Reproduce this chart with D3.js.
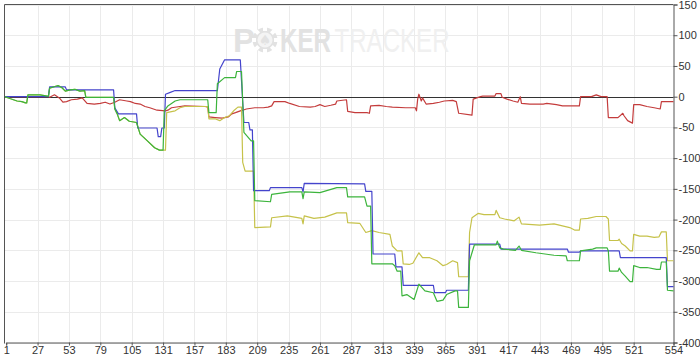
<!DOCTYPE html>
<html>
<head>
<meta charset="utf-8">
<script src="https://cdn.jsdelivr.net/npm/d3@7"></script>
<style>
  body { margin: 0; background: #fff; }
  svg { display: block; font-family: "Liberation Sans", Arial, sans-serif; }
</style>
</head>
<body>
<script>
// x ticks (hand numbers) and y ticks (amount)
const xTicks = [1, 27, 53, 79, 105, 131, 157, 183, 209, 235, 261, 287, 313, 339, 365, 391, 417, 443, 469, 495, 521, 554];
const yTicks = [150, 100, 50, 0, -50, -100, -150, -200, -250, -300, -350, -400];

// each series is [hand, value]
const blueSeries = [[0,0],[36,0],[37,16],[50,16],[51,11],[90,11],[91,-18],[94,-28],[109,-28],[110,-51],[126,-51],[127,-65],[129,-65],[130,-51],[132,-51],[133,4],[137,7],[141,10],[176,10],[178,45],[182,60],[195,60],[198,-42],[202,-42],[203,-54],[205,-54],[206,-153],[219,-153],[220,-148],[246,-148],[247,-155],[248,-141],[298,-142],[299,-154],[304,-154],[305,-256],[323,-256],[324,-277],[329,-277],[330,-307],[355,-307],[356,-319],[365,-319],[366,-315],[384,-315],[385,-240],[410,-240],[411,-248],[466,-248],[467,-253],[476,-253],[477,-251],[509,-251],[510,-262],[548,-262],[549,-309],[554,-309]];

const greenSeries = [[0,0],[4,-3],[10,-7],[14,-8],[17,-10],[18,-10],[19,3],[29,3],[35,1],[36,1],[37,14],[42,17],[44,18],[47,15],[50,9],[54,11],[58,12],[62,9],[66,10],[67,-1],[90,-1],[91,-20],[93,-28],[95,-39],[99,-34],[103,-40],[109,-42],[112,-61],[118,-72],[124,-83],[128,-87],[131,-87],[132,-23],[135,-15],[141,-7],[145,-5],[168,-5],[169,-26],[175,-26],[176,21],[182,31],[191,31],[192,41],[196,41],[198,-58],[204,-72],[206,-72],[207,-169],[220,-171],[221,-159],[236,-155],[246,-155],[247,-166],[248,-155],[261,-156],[275,-148],[283,-148],[284,-163],[298,-163],[300,-178],[303,-178],[304,-272],[321,-272],[323,-275],[325,-284],[328,-284],[329,-324],[333,-322],[339,-330],[343,-305],[348,-316],[355,-319],[358,-333],[363,-331],[366,-322],[373,-316],[375,-316],[376,-343],[384,-343],[385,-267],[387,-254],[389,-241],[407,-241],[408,-235],[410,-246],[413,-248],[423,-250],[426,-243],[428,-250],[440,-254],[455,-258],[465,-259],[466,-267],[476,-267],[477,-251],[487,-248],[490,-246],[499,-246],[500,-251],[501,-284],[508,-284],[509,-279],[511,-286],[514,-292],[518,-301],[520,-301],[521,-275],[526,-278],[532,-278],[540,-281],[543,-281],[544,-269],[548,-269],[549,-315],[554,-316]];

const oliveSeries = [[0,0],[4,-3],[10,-7],[14,-8],[17,-10],[18,-10],[19,3],[29,3],[35,1],[36,1],[37,14],[42,17],[44,18],[47,15],[50,9],[54,11],[58,12],[62,9],[66,10],[67,-1],[90,-1],[91,-20],[93,-28],[95,-39],[99,-34],[103,-40],[109,-42],[112,-61],[118,-72],[124,-83],[128,-87],[133,-87],[134,-26],[141,-23],[145,-18],[149,-16],[168,-16],[169,-36],[174,-36],[178,-39],[182,-34],[186,-31],[190,-22],[193,-17],[196,-17],[197,-107],[199,-121],[206,-121],[207,-213],[220,-212],[221,-197],[234,-194],[246,-198],[247,-207],[248,-194],[256,-198],[265,-196],[275,-189],[283,-189],[284,-205],[294,-206],[299,-221],[304,-218],[310,-221],[319,-224],[321,-243],[325,-251],[329,-251],[330,-272],[335,-273],[338,-271],[343,-254],[346,-262],[352,-262],[358,-267],[363,-275],[366,-273],[371,-267],[375,-270],[376,-293],[384,-293],[385,-221],[387,-197],[392,-190],[397,-192],[406,-192],[407,-185],[410,-197],[414,-199],[422,-202],[426,-196],[428,-207],[443,-209],[455,-207],[468,-213],[472,-217],[476,-217],[477,-199],[483,-198],[490,-195],[498,-195],[500,-199],[501,-234],[508,-234],[509,-232],[511,-239],[514,-243],[518,-251],[520,-251],[521,-224],[526,-227],[532,-227],[538,-229],[542,-228],[544,-220],[548,-220],[549,-267],[554,-267]];

const redSeries = [[0,0],[36,0],[37,-1],[41,3],[45,-2],[48,-9],[51,-8],[55,-5],[60,-4],[64,-2],[68,-11],[74,-12],[79,-11],[83,-9],[87,-12],[91,-9],[95,-5],[101,-7],[104,-8],[108,-11],[112,-12],[116,-16],[120,-18],[126,-22],[133,-23],[135,-22],[138,-18],[145,-16],[149,-15],[166,-16],[168,-17],[169,-33],[174,-34],[180,-35],[185,-33],[188,-28],[191,-26],[195,-23],[197,-22],[200,-20],[207,-18],[214,-18],[218,-17],[221,-15],[223,-8],[232,-8],[236,-11],[244,-16],[253,-17],[257,-16],[261,-13],[265,-16],[270,-14],[274,-12],[275,-7],[283,-5],[284,-24],[290,-26],[300,-26],[302,-27],[303,-15],[310,-14],[316,-16],[321,-17],[332,-18],[340,-18],[341,-23],[342,-4],[343,4],[345,-7],[346,-2],[349,-12],[355,-11],[360,-9],[364,-7],[371,-6],[374,-8],[376,-27],[387,-30],[388,-4],[391,-2],[394,0],[396,1],[406,1],[407,5],[411,5],[412,-1],[416,-4],[421,-7],[425,-9],[427,0],[428,-11],[435,-12],[446,-12],[449,-11],[457,-13],[462,-15],[476,-15],[477,0],[486,0],[490,3],[494,0],[499,0],[500,-34],[508,-34],[512,-27],[513,-31],[516,-39],[520,-43],[521,-13],[526,-13],[532,-16],[538,-18],[543,-20],[544,-8],[554,-8]];

const W = 700, H = 359;
const plot = { left: 4.5, right: 673.5, top: 4.5, bottom: 342.5 };

const svg = d3.select("body").append("svg")
  .attr("width", W)
  .attr("height", H);

svg.append("rect").attr("width", W).attr("height", H).attr("fill", "#fff");

const x = d3.scaleLinear().domain([1, 554]).range([6.2, plot.right]);
const y = d3.scaleLinear().domain([-400, 150]).range([plot.bottom, plot.top]);

// grid
svg.append("g").selectAll("line")
  .data(yTicks)
  .join("line")
    .attr("x1", plot.left).attr("x2", plot.right)
    .attr("y1", d => Math.round(y(d)) + 0.5).attr("y2", d => Math.round(y(d)) + 0.5)
    .attr("stroke", "#ebebeb");

svg.append("g").selectAll("line")
  .data(xTicks.slice(1, -1))
  .join("line")
    .attr("x1", d => Math.round(x(d)) + 0.5).attr("x2", d => Math.round(x(d)) + 0.5)
    .attr("y1", plot.top).attr("y2", plot.bottom)
    .attr("stroke", "#ebebeb");

// watermark
const wm = svg.append("g");
wm.append("text")
  .attr("x", 233).attr("y", 52)
  .attr("font-size", 33).attr("font-weight", "bold")
  .attr("fill", "#e2e2e2")
  .text("P");
const chip = wm.append("g").attr("transform", "translate(265,40)");
chip.append("circle").attr("r", 12.5).attr("fill", "#e2e2e2");
d3.range(8).forEach(i => {
  chip.append("rect")
    .attr("x", -2).attr("y", -13).attr("width", 4).attr("height", 4)
    .attr("fill", "#fff")
    .attr("transform", `rotate(${i * 45})`);
});
chip.append("circle").attr("r", 7.5).attr("fill", "#f4f4f4");
chip.append("text")
  .attr("text-anchor", "middle").attr("y", 5)
  .attr("font-size", 14).attr("fill", "#e2e2e2")
  .attr("font-family", "DejaVu Sans")
  .text("\u2660");
const word = wm.append("text")
  .attr("transform", "translate(280,52) scale(0.73,1)")
  .attr("font-size", 33);
word.append("tspan")
  .attr("font-weight", "bold")
  .attr("fill", "#e2e2e2")
  .text("KER");
word.append("tspan")
  .attr("dx", 5)
  .attr("fill", "#f0f0f0")
  .text("TRACKER");

// frame: top and left
svg.append("line")
  .attr("x1", plot.left).attr("x2", plot.right).attr("y1", plot.top).attr("y2", plot.top)
  .attr("stroke", "#555");
svg.append("line")
  .attr("x1", plot.left).attr("x2", plot.left).attr("y1", plot.top).attr("y2", plot.bottom + 1)
  .attr("stroke", "#555");

// zero line
svg.append("line")
  .attr("x1", plot.left).attr("x2", plot.right)
  .attr("y1", Math.round(y(0)) + 0.5).attr("y2", Math.round(y(0)) + 0.5)
  .attr("stroke", "#333");

// axes
const yAxis = svg.append("g")
  .attr("transform", `translate(${plot.right},0)`)
  .call(d3.axisRight(y).tickValues(yTicks).tickSize(4).tickPadding(1).tickFormat(d => String(d)));

const xAxis = svg.append("g")
  .attr("transform", `translate(0,${plot.bottom})`)
  .call(d3.axisBottom(x).tickValues(xTicks).tickSize(3).tickPadding(1).tickFormat(d => String(d)));

[yAxis, xAxis].forEach(a => {
  a.select(".domain").attr("stroke", "#555");
  a.selectAll(".tick line").attr("stroke", "#555");
  a.selectAll(".tick text")
    .attr("font-size", 11)
    .attr("font-family", "Liberation Sans, Arial, sans-serif")
    .attr("fill", "#333");
});

// lines
const line = d3.line()
  .x(d => x(d[0]))
  .y(d => y(d[1]));

const series = [
  { data: redSeries,   color: "#c43c3c" },
  { data: oliveSeries, color: "#c6c24a" },
  { data: blueSeries,  color: "#4444cc" },
  { data: greenSeries, color: "#3cb43c" }
];

series.forEach(s => {
  svg.append("path")
    .datum(s.data)
    .attr("fill", "none")
    .attr("stroke", s.color)
    .attr("stroke-width", 1.2)
    .attr("stroke-linejoin", "round")
    .attr("d", line);
});
</script>
</body>
</html>
